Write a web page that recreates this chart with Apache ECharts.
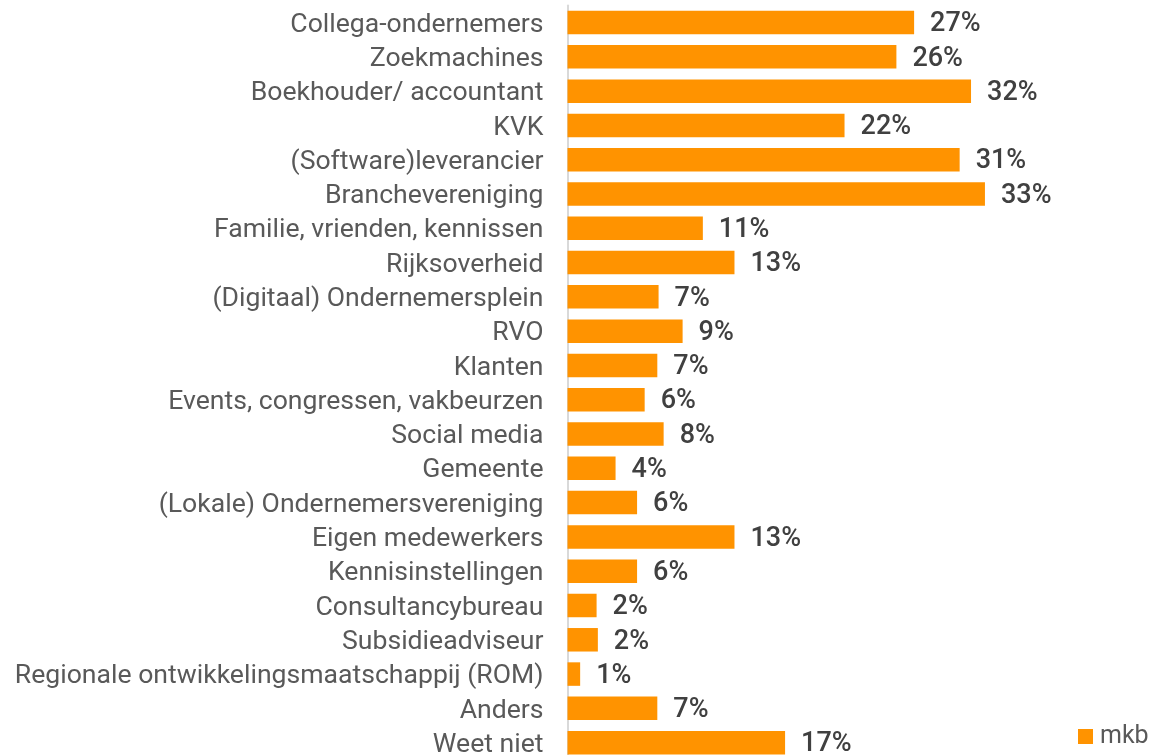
<!DOCTYPE html>
<html>
<head>
<meta charset="utf-8">
<script src="https://cdn.jsdelivr.net/npm/echarts@6/dist/echarts.min.js"></script>
<style>
html,body{margin:0;padding:0;background:#fff;overflow:hidden;}
#chart{width:1159px;height:800px;}
</style>
</head>
<body>
<div id="chart"></div>
<script>
const categories = [
  "Collega-ondernemers",
  "Zoekmachines",
  "Boekhouder/ accountant",
  "KVK",
  "(Software)leverancier",
  "Branchevereniging",
  "Familie, vrienden, kennissen",
  "Rijksoverheid",
  "(Digitaal) Ondernemersplein",
  "RVO",
  "Klanten",
  "Events, congressen, vakbeurzen",
  "Social media",
  "Gemeente",
  "(Lokale) Ondernemersvereniging",
  "Eigen medewerkers",
  "Kennisinstellingen",
  "Consultancybureau",
  "Subsidieadviseur",
  "Regionale ontwikkelingsmaatschappij (ROM)",
  "Anders",
  "Weet niet"
];
const seriesName = "mkb";
const mkbValues = [27.4, 26.0, 31.9, 21.9, 31.0, 33.0, 10.7, 13.2, 7.2, 9.1, 7.1, 6.1, 7.6, 3.8, 5.5, 13.2, 5.5, 2.3, 2.4, 1.0, 7.1, 17.2];

const chart = echarts.init(document.getElementById('chart'), null, {renderer: 'canvas'});
chart.setOption({
  animation: false,
  backgroundColor: '#ffffff',
  textStyle: {fontFamily: 'Roboto'},
  legend: {
    left: 1073, top: 719,
    itemWidth: 15, itemHeight: 15, itemGap: 6,
    icon: 'rect',
    textStyle: {fontSize: 25, color: '#595959', fontFamily: 'Roboto', padding: [0,0,0,2]},
    data: [seriesName]
  },
  grid: {left: 567.5, top: 5.4, width: 506, height: 754.4, containLabel: false},
  xAxis: {
    type: 'value', min: 0, max: 40, show: false
  },
  yAxis: {
    type: 'category', inverse: true, data: categories,
    axisLine: {show: true, lineStyle: {color: '#d9d9d9', width: 2}},
    axisTick: {show: false},
    axisLabel: {
      interval: 0, margin: 24,
      formatter: v => '{c|' + v + '}',
      rich: {c: {fontSize: 26.6, color: '#595959', fontFamily: 'Roboto', padding: [5, 0, 0, 0]}}
    }
  },
  series: [{
    name: seriesName,
    type: 'bar',
    data: mkbValues,
    barWidth: 23.5,
    itemStyle: {color: '#FF9300'},
    label: {
      show: true, position: 'right', distance: 16,
      fontSize: 27, color: '#404040', fontFamily: 'Roboto', fontWeight: 500,
      formatter: p => Math.round(p.value) + '%',
      offset: [0, 2]
    }
  }]
});
</script>
</body>
</html>
